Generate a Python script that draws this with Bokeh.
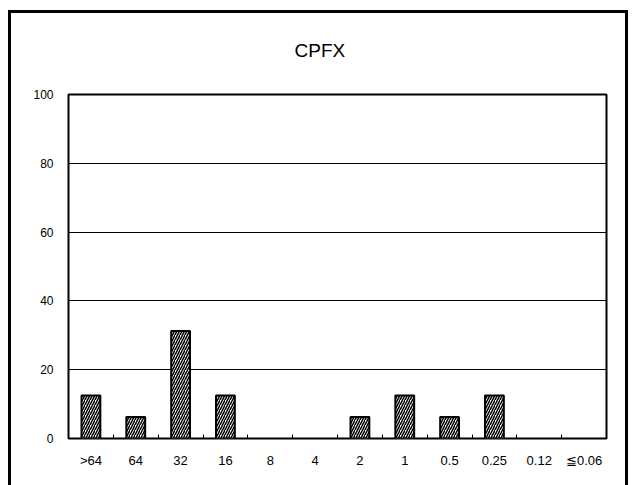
from bokeh.plotting import figure
from bokeh.models import (Range1d, FixedTicker, ColumnDataSource, CDSView,
                          BooleanFilter, InlineStyleSheet)
from bokeh.embed import file_html
from bokeh.resources import INLINE

# MIC distribution for CPFX (% of isolates per concentration)
mic_labels = [">64", "64", "32", "16", "8", "4", "2", "1", "0.5", "0.25", "0.12", "≦0.06"]
percent = [12.5, 6.25, 31.25, 12.5, 0, 0, 6.25, 12.5, 6.25, 12.5, 0, 0]
y_ticks = [0, 20, 40, 60, 80, 100]
chart_title = "CPFX"

FONT = "Liberation Sans"

centers = [i + 0.5 for i in range(len(mic_labels))]
boundaries = [i for i in range(1, len(mic_labels))]

src = ColumnDataSource(data=dict(x=centers, top=percent, label=mic_labels))
# empty classes get no bar at all
nonzero = CDSView(filter=BooleanFilter([v > 0 for v in percent]))

p = figure(
    width=632, height=485,
    x_range=Range1d(0, len(mic_labels)), y_range=Range1d(0, 100),
    output_backend="svg", toolbar_location=None,
    min_border_left=68, min_border_right=26, min_border_top=94, min_border_bottom=47,
    title=chart_title,
)

# Title above the plot area, centred on the chart
p.title.align = "left"
p.title.offset = 226
p.title.standoff = 68
p.title.text_font = FONT
p.title.text_font_size = "19px"
p.title.text_font_style = "normal"
p.title.text_color = "black"

p.vbar(x="x", top="top", bottom=0, width=0.42, source=src, view=nonzero,
       fill_color="white", line_color="black", line_width=2,
       hatch_pattern="right_diagonal_line", hatch_color="black",
       hatch_scale=5, hatch_weight=1.5)

# Axes
p.xaxis.ticker = FixedTicker(ticks=centers, minor_ticks=boundaries)
p.xaxis.major_label_overrides = {c: l for c, l in zip(centers, mic_labels)}
p.xaxis.major_tick_line_color = None
p.xaxis.major_tick_out = 0
p.xaxis.major_tick_in = 0
p.xaxis.minor_tick_in = 4
p.xaxis.minor_tick_out = 0
p.xaxis.minor_tick_line_color = "black"
p.xaxis.axis_line_color = None
p.xaxis.major_label_standoff = 14
p.xaxis.major_label_text_font = FONT
p.xaxis.major_label_text_font_size = "13px"
p.xaxis.major_label_text_color = "black"

p.yaxis.ticker = FixedTicker(ticks=y_ticks)
p.yaxis.major_tick_line_color = None
p.yaxis.major_tick_out = 0
p.yaxis.major_tick_in = 0
p.yaxis.minor_tick_line_color = None
p.yaxis.axis_line_color = None
p.yaxis.major_label_standoff = 15
p.yaxis.major_label_text_font = FONT
p.yaxis.major_label_text_font_size = "12px"
p.yaxis.major_label_text_color = "black"

p.xgrid.grid_line_color = None
p.ygrid.grid_line_color = "black"
p.ygrid.grid_line_width = 1

p.outline_line_color = "black"
p.outline_line_width = 2

p.background_fill_color = "white"
p.border_fill_color = "white"

# Outer frame around the whole chart
p.stylesheets = [InlineStyleSheet(css="""
:host { position: relative; }
:host::after {
  content: "";
  position: absolute;
  left: 8px; top: 10px; width: 620px; height: 475px;
  border-left: 3px solid black; border-top: 3px solid black; border-right: 3px solid black;
  box-sizing: border-box;
  pointer-events: none;
}
""")]

open("out.html", "w").write(file_html(p, INLINE))
